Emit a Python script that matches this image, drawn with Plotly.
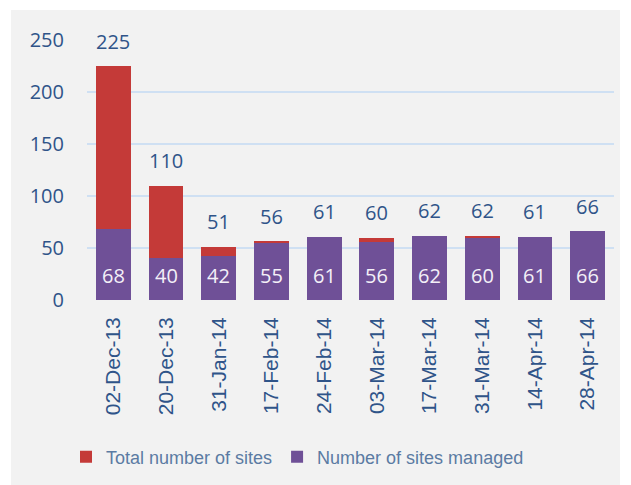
import plotly.graph_objects as go

dates = ["02-Dec-13", "20-Dec-13", "31-Jan-14", "17-Feb-14", "24-Feb-14",
         "03-Mar-14", "17-Mar-14", "31-Mar-14", "14-Apr-14", "28-Apr-14"]
total_sites = [225, 110, 51, 56, 61, 60, 62, 62, 61, 66]
managed_sites = [68, 40, 42, 55, 61, 56, 62, 60, 61, 66]
y_ticks = [0, 50, 100, 150, 200, 250]

unmanaged = [t - m for t, m in zip(total_sites, managed_sites)]

RED = "#c43a38"
PURPLE = "#6f5097"
TXT = "#2f5489"
LEG = "#5b7ba3"

fig = go.Figure()
fig.add_trace(go.Bar(x=dates, y=managed_sites, name="Number of sites managed",
                     marker=dict(color=PURPLE, line=dict(width=0)),
                     hoverinfo="skip"))
fig.add_trace(go.Bar(x=dates, y=unmanaged, name="Total number of sites",
                     marker=dict(color=RED, line=dict(width=0)),
                     hoverinfo="skip"))

annotations = []
for d, t in zip(dates, total_sites):
    annotations.append(dict(x=d, y=t, text=str(t), showarrow=False, yshift=25,
                            font=dict(family="Open Sans", size=20, color=TXT)))
for d, m in zip(dates, managed_sites):
    annotations.append(dict(x=d, y=0, text=str(m), showarrow=False, yshift=25,
                            font=dict(family="Open Sans", size=20, color="#f4f0f8")))

# gray panel behind chart
pl, pr, pt, pb = 87, 614, 40, 300
pw, ph = pr - pl, pb - pt
def px2x(px):
    return (px - pl) / pw
def px2y(py):
    return (pb - py) / ph

fig.add_shape(type="rect", xref="paper", yref="paper",
              x0=px2x(11), x1=px2x(620), y0=px2y(485), y1=px2y(10),
              fillcolor="#f2f2f2", line=dict(width=0), layer="below")

fig.update_layout(
    width=631, height=485,
    margin=dict(l=pl, r=631 - pr, t=pt, b=485 - pb, autoexpand=False),
    barmode="stack", bargap=0.34,
    paper_bgcolor="white", plot_bgcolor="#f2f2f2",
    annotations=annotations,
    showlegend=True,
    legend=dict(orientation="h", x=px2x(66), xanchor="left",
                y=px2y(457), yanchor="middle", traceorder="reversed",
                font=dict(family="Liberation Sans", size=18, color=LEG),
                bgcolor="rgba(0,0,0,0)"),
    font=dict(family="Open Sans", color=TXT),
)
fig.update_yaxes(range=[0, 250], tickvals=y_ticks, showgrid=True,
                 gridcolor="#cfe0f3", gridwidth=1.5, zeroline=False,
                 tickfont=dict(family="Open Sans", size=20, color=TXT),
                 ticklabelstandoff=22, showline=False, automargin=False)
fig.update_xaxes(tickangle=-90, showgrid=False, showline=False,
                 tickfont=dict(family="Liberation Sans", size=21, color=TXT),
                 ticklabelstandoff=12, automargin=False)

fig.write_html("out.html", config={"displayModeBar": False},
               post_script="document.body.style.margin='0';document.body.style.overflow='hidden';")
